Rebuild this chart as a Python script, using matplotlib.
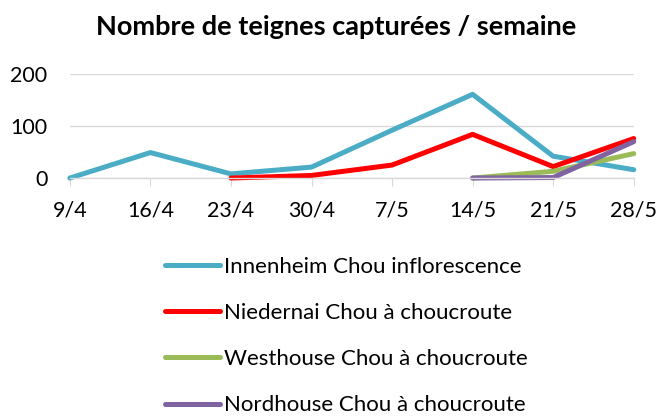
import matplotlib
matplotlib.use("Agg")
import matplotlib.pyplot as plt
import numpy as np

categories = ["9/4", "16/4", "23/4", "30/4", "7/5", "14/5", "21/5", "28/5"]
innenheim = [0, 49, 8, 21, 92, 161, 42, 16]
niedernai = [np.nan, np.nan, 0, 5, 25, 84, 22, 76]
westhouse = [np.nan, np.nan, np.nan, np.nan, np.nan, 0, 13, 47]
nordhouse = [np.nan, np.nan, np.nan, np.nan, np.nan, 0, 1, 70]

series = [
    ("Innenheim Chou inflorescence", innenheim, "#4BACC6"),
    ("Niedernai Chou à choucroute", niedernai, "#FF0000"),
    ("Westhouse Chou à choucroute", westhouse, "#9BBB59"),
    ("Nordhouse Chou à choucroute", nordhouse, "#8064A2"),
]

plt.rcParams['font.family'] = ['Lato', 'DejaVu Sans']

fig = plt.figure(figsize=(6.65, 4.16), dpi=100)
ax = fig.add_axes([0.105, 0.572, 0.848, 0.25])
x = np.arange(len(categories))
for name, vals, col in series:
    ax.plot(x, vals, color=col, lw=3.6, label=name, solid_capstyle='round', solid_joinstyle='round', clip_on=False)

ax.set_xlim(0, len(categories) - 1)
ax.set_ylim(0, 200)
ax.set_yticks([0, 100, 200])
ax.set_xticks(x)
ax.set_xticklabels(categories)
ax.yaxis.grid(True, color="#D9D9D9", lw=1)
ax.set_axisbelow(True)
for s in ["top", "right", "left"]:
    ax.spines[s].set_visible(False)
ax.spines["bottom"].set_color("#D9D9D9")
ax.spines["bottom"].set_linewidth(1)
ax.tick_params(axis='y', length=0, labelsize=15.5, pad=16)
ax.tick_params(axis='x', length=6, color="#D9D9D9", labelsize=15.5, pad=10)

fig.text(0.505, 0.935, "Nombre de teignes capturées / semaine", ha="center", va="center",
         fontsize=19.5, fontweight="bold")

leg = fig.legend(loc="upper left", bbox_to_anchor=(0.248, 0.383), ncol=1, frameon=False,
                 fontsize=16, handlelength=2.5, handletextpad=0.15, labelspacing=1.18,
                 borderaxespad=0, borderpad=0)

fig.savefig("out.png", dpi=100)
